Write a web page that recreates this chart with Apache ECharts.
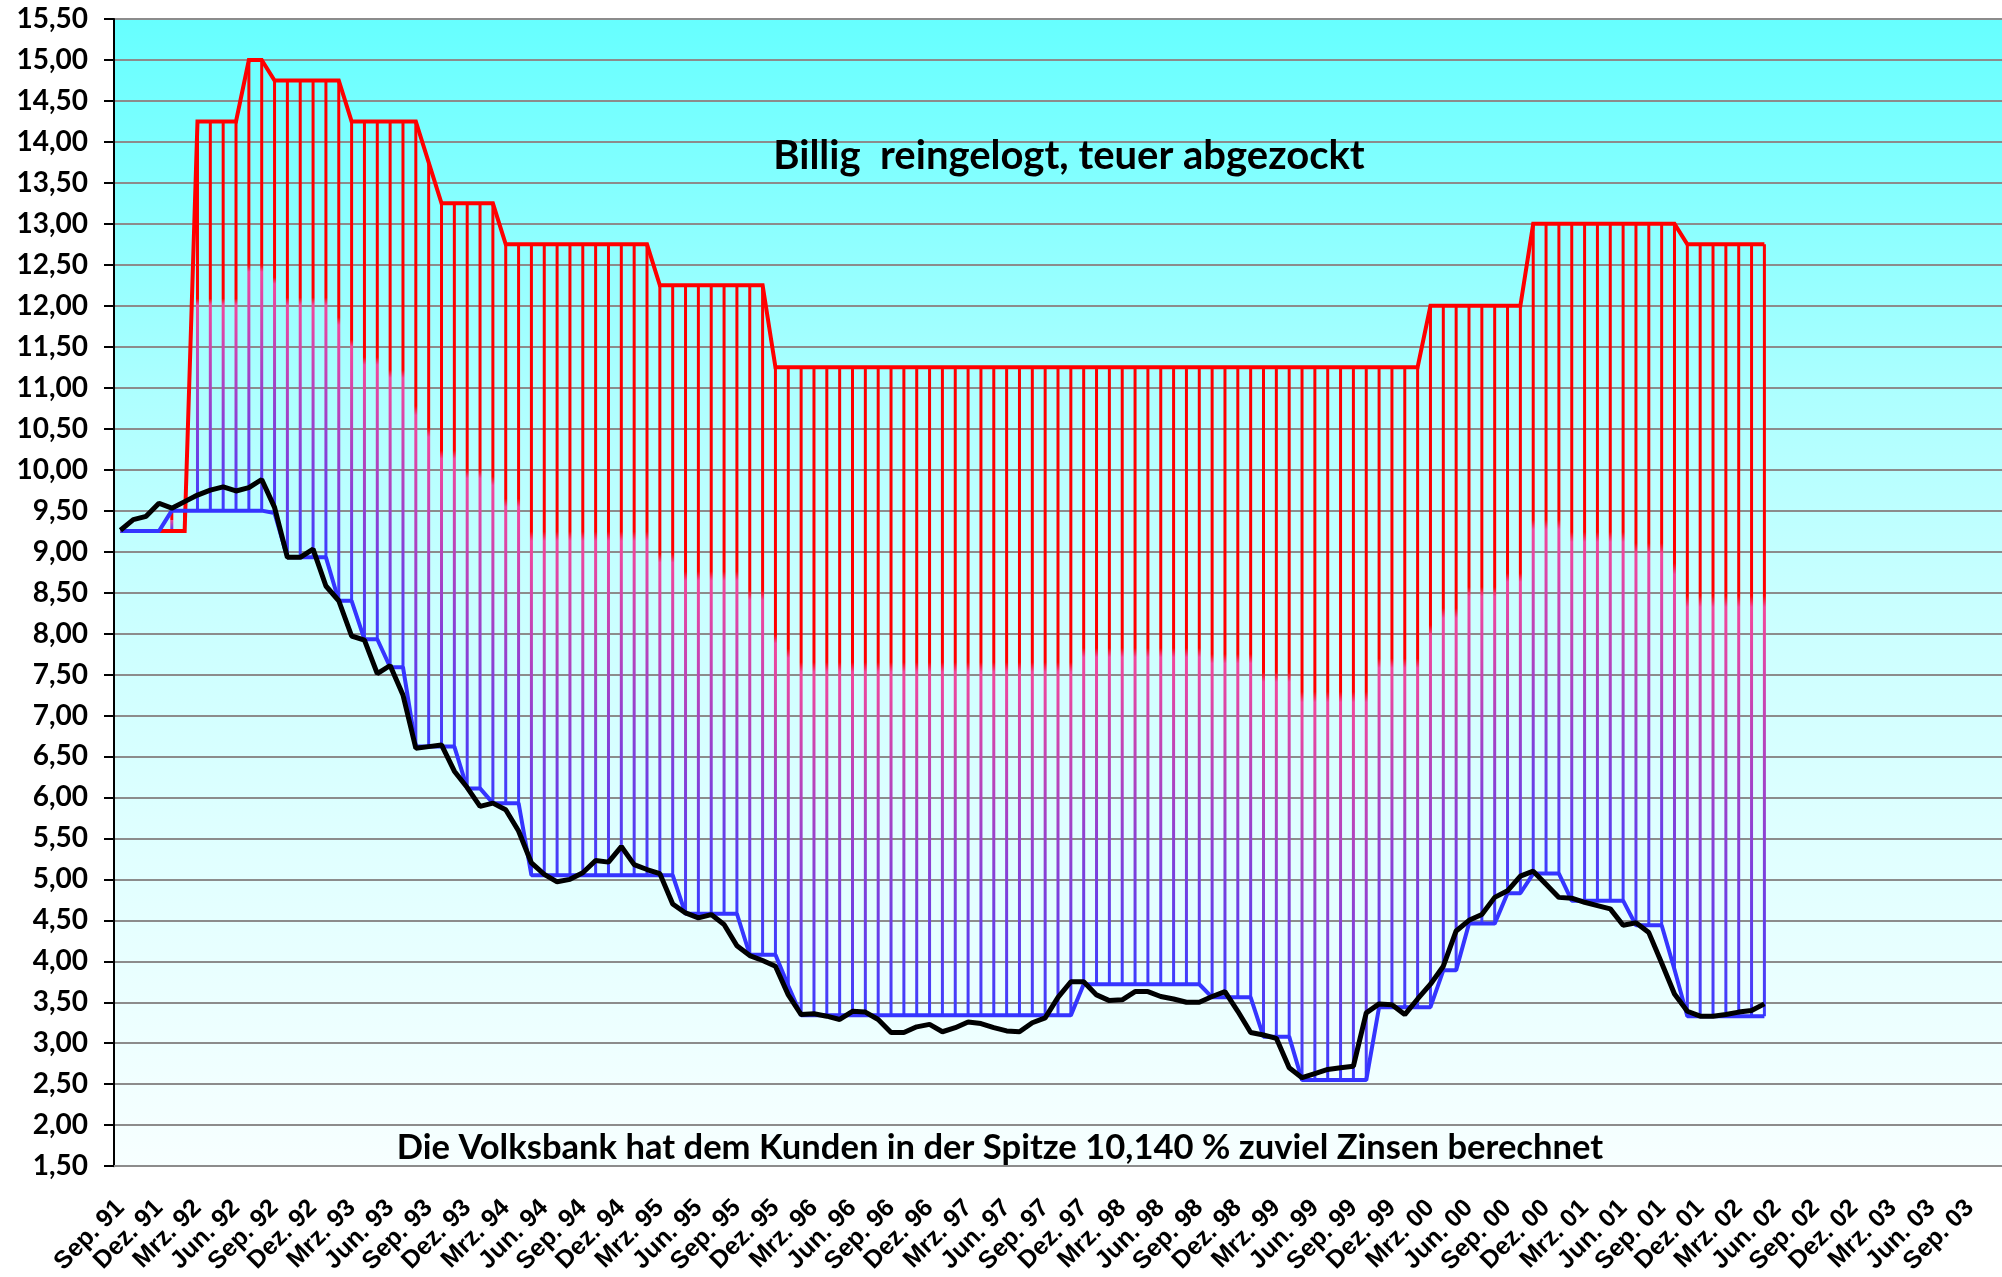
<!DOCTYPE html>
<html>
<head>
<meta charset="utf-8">
<script src="https://cdn.jsdelivr.net/npm/echarts@6/dist/echarts.min.js"></script>
<style>html,body{margin:0;padding:0;background:#fff;}#c{width:2002px;height:1277px;}</style>
</head>
<body>
<div id="c"></div>
<script>
// Monthly categories Sep. 91 - Nov. 03
const categories = [
'Sep. 91','Okt. 91','Nov. 91','Dez. 91',
'Jan. 92','Feb. 92','Mrz. 92','Apr. 92','Mai. 92','Jun. 92','Jul. 92','Aug. 92','Sep. 92','Okt. 92','Nov. 92','Dez. 92',
'Jan. 93','Feb. 93','Mrz. 93','Apr. 93','Mai. 93','Jun. 93','Jul. 93','Aug. 93','Sep. 93','Okt. 93','Nov. 93','Dez. 93',
'Jan. 94','Feb. 94','Mrz. 94','Apr. 94','Mai. 94','Jun. 94','Jul. 94','Aug. 94','Sep. 94','Okt. 94','Nov. 94','Dez. 94',
'Jan. 95','Feb. 95','Mrz. 95','Apr. 95','Mai. 95','Jun. 95','Jul. 95','Aug. 95','Sep. 95','Okt. 95','Nov. 95','Dez. 95',
'Jan. 96','Feb. 96','Mrz. 96','Apr. 96','Mai. 96','Jun. 96','Jul. 96','Aug. 96','Sep. 96','Okt. 96','Nov. 96','Dez. 96',
'Jan. 97','Feb. 97','Mrz. 97','Apr. 97','Mai. 97','Jun. 97','Jul. 97','Aug. 97','Sep. 97','Okt. 97','Nov. 97','Dez. 97',
'Jan. 98','Feb. 98','Mrz. 98','Apr. 98','Mai. 98','Jun. 98','Jul. 98','Aug. 98','Sep. 98','Okt. 98','Nov. 98','Dez. 98',
'Jan. 99','Feb. 99','Mrz. 99','Apr. 99','Mai. 99','Jun. 99','Jul. 99','Aug. 99','Sep. 99','Okt. 99','Nov. 99','Dez. 99',
'Jan. 00','Feb. 00','Mrz. 00','Apr. 00','Mai. 00','Jun. 00','Jul. 00','Aug. 00','Sep. 00','Okt. 00','Nov. 00','Dez. 00',
'Jan. 01','Feb. 01','Mrz. 01','Apr. 01','Mai. 01','Jun. 01','Jul. 01','Aug. 01','Sep. 01','Okt. 01','Nov. 01','Dez. 01',
'Jan. 02','Feb. 02','Mrz. 02','Apr. 02','Mai. 02','Jun. 02','Jul. 02','Aug. 02','Sep. 02','Okt. 02','Nov. 02','Dez. 02',
'Jan. 03','Feb. 03','Mrz. 03','Apr. 03','Mai. 03','Jun. 03','Jul. 03','Aug. 03','Sep. 03','Okt. 03','Nov. 03'
];

// Zinssatz Volksbank (rot)
const redValues = [
9.25,9.25,9.25,9.25,9.25,9.25,
14.25,14.25,14.25,14.25,
15.00,15.00,
14.75,14.75,14.75,14.75,14.75,14.75,
14.25,14.25,14.25,14.25,14.25,14.25,
13.75,
13.25,13.25,13.25,13.25,13.25,
12.75,12.75,12.75,12.75,12.75,12.75,12.75,12.75,12.75,12.75,12.75,12.75,
12.25,12.25,12.25,12.25,12.25,12.25,12.25,12.25,12.25,
11.25,11.25,11.25,11.25,11.25,11.25,11.25,11.25,11.25,11.25,
11.25,11.25,11.25,11.25,11.25,11.25,11.25,11.25,11.25,11.25,
11.25,11.25,11.25,11.25,11.25,11.25,11.25,11.25,11.25,11.25,
11.25,11.25,11.25,11.25,11.25,11.25,11.25,11.25,11.25,11.25,
11.25,11.25,11.25,11.25,11.25,11.25,11.25,11.25,11.25,11.25,
11.25,
12.00,12.00,12.00,12.00,12.00,12.00,12.00,12.00,
13.00,13.00,13.00,13.00,13.00,13.00,13.00,13.00,13.00,13.00,13.00,13.00,
12.75,12.75,12.75,12.75,12.75,12.75,12.75
];

// Vergleichszins (blau)
const blueValues = [
9.25,9.25,9.25,9.25,
9.50,9.50,9.50,9.50,9.50,9.50,9.50,9.50,
9.47,
8.93,8.93,8.93,8.93,
8.40,8.40,
7.93,7.93,
7.59,7.59,
6.62,6.62,6.62,6.62,
6.11,6.11,
5.93,5.93,5.93,
5.05,5.05,5.05,5.05,5.05,5.05,5.05,5.05,5.05,5.05,5.05,5.05,
4.58,4.58,4.58,4.58,4.58,
4.08,4.08,4.08,
3.70,
3.34,3.34,3.34,3.34,3.34,3.34,3.34,3.34,3.34,3.34,3.34,
3.34,3.34,3.34,3.34,3.34,3.34,3.34,3.34,3.34,3.34,3.34,
3.72,3.72,3.72,3.72,3.72,3.72,3.72,3.72,3.72,3.72,
3.56,3.56,3.56,3.56,
3.08,3.08,3.08,
2.55,2.55,2.55,2.55,2.55,2.55,
3.44,3.44,3.44,3.44,3.44,
3.89,3.89,
4.46,4.46,4.46,
4.83,4.83,
5.07,5.07,5.07,
4.74,4.74,4.74,4.74,4.74,
4.44,4.44,4.44,
3.90,
3.33,3.33,3.33,3.33,3.33,3.33,3.33
];

// Marktzins (schwarz)
const blackValues = [
9.26,9.39,9.43,9.59,9.53,9.61,9.69,9.75,9.79,9.74,
9.78,9.88,9.54,8.93,8.93,9.03,8.58,8.40,7.97,7.92,
7.51,7.61,7.25,6.60,6.62,6.64,6.32,6.12,5.89,5.93,
5.85,5.59,5.20,5.06,4.97,5.00,5.08,5.23,5.21,5.40,
5.18,5.12,5.07,4.70,4.59,4.53,4.57,4.45,4.19,4.07,
4.01,3.94,3.59,3.35,3.36,3.33,3.29,3.39,3.38,3.29,
3.13,3.13,3.20,3.23,3.14,3.19,3.26,3.24,3.19,3.15,
3.14,3.25,3.31,3.56,3.75,3.75,3.59,3.52,3.53,3.63,
3.63,3.57,3.54,3.50,3.50,3.57,3.63,3.39,3.13,3.10,
3.06,2.70,2.58,2.63,2.68,2.70,2.72,3.37,3.48,3.47,
3.35,3.54,3.72,3.94,4.37,4.50,4.57,4.78,4.86,5.04,
5.10,4.94,4.78,4.77,4.72,4.68,4.64,4.44,4.47,4.35,
3.98,3.60,3.39,3.33,3.33,3.35,3.38,3.40,3.48
];

const yAxisMin = 1.5, yAxisMax = 15.5, yAxisStep = 0.5;
const titleText = 'Billig  reingelogt, teuer abgezockt';
const footText = 'Die Volksbank hat dem Kunden in der Spitze 10,140 % zuviel Zinsen berechnet';

const spanData = redValues.map((r, i) => [i, r, blueValues[i]]);

const chart = echarts.init(document.getElementById('c'), null, {renderer: 'canvas'});

const option = {
  animation: false,
  backgroundColor: '#ffffff',
  grid: {
    left: 114, right: 0, top: 19, bottom: 109,
    show: true,
    borderWidth: 0,
    backgroundColor: {
      type: 'linear', x: 0, y: 0, x2: 0, y2: 1,
      colorStops: [
        {offset: 0, color: '#66ffff'},
        {offset: 0.13, color: '#80ffff'},
        {offset: 0.33, color: '#aeffff'},
        {offset: 0.5, color: '#c8ffff'},
        {offset: 0.7, color: '#deffff'},
        {offset: 1, color: '#f7ffff'}
      ]
    }
  },
  xAxis: {
    type: 'category',
    data: categories,
    boundaryGap: true,
    axisLine: {show: true, lineStyle: {color: '#8c8c8c', width: 2}},
    axisTick: {show: false},
    splitLine: {show: false},
    axisLabel: {
      interval: 2,
      rotate: 45,
      margin: 38,
      color: '#000',
      fontFamily: 'Liberation Sans',
      fontWeight: 'bold',
      fontSize: 25
    }
  },
  yAxis: {
    type: 'value',
    min: yAxisMin, max: yAxisMax, interval: yAxisStep,
    axisLine: {show: true, lineStyle: {color: '#000', width: 2}},
    axisTick: {show: true, length: 10, lineStyle: {color: '#000', width: 2}},
    splitLine: {show: true, lineStyle: {color: '#8c8c8c', width: 2}},
    axisLabel: {
      margin: 26,
      color: '#000',
      fontFamily: 'Lato',
      fontWeight: 'bold',
      fontSize: 28,
      formatter: v => v.toFixed(2).replace('.', ',')
    }
  },
  graphic: [
    {type: 'text', x: 1069, y: 156, z: 100,
      style: {text: titleText, font: 'bold 40px Lato', fill: '#000', align: 'center', verticalAlign: 'middle'}},
    {type: 'text', x: 1000, y: 1148, z: 100,
      style: {text: footText, font: 'bold 34.6px Lato', fill: '#000', align: 'center', verticalAlign: 'middle'}}
  ],
  series: [
    {
      type: 'custom',
      z: 1,
      data: spanData,
      encode: {x: 0, y: [1, 2]},
      renderItem: function (params, api) {
        const i = api.value(0);
        const p1 = api.coord([i, api.value(1)]);
        const p2 = api.coord([i, api.value(2)]);
        const top = Math.min(p1[1], p2[1]);
        const h = Math.abs(p2[1] - p1[1]);
        if (h < 0.5) return null;
        return {
          type: 'rect',
          shape: {x: p1[0] - 1.5, y: top, width: 3, height: h},
          style: {
            fill: new echarts.graphic.LinearGradient(0, 0, 0, 1, [
              {offset: 0, color: '#ff0000'},
              {offset: 0.455, color: '#ff0000'},
              {offset: 0.47, color: '#f2479a'},
              {offset: 1, color: '#3c3cff'}
            ])
          }
        };
      }
    },
    {
      type: 'line', z: 3, data: redValues, symbol: 'none',
      lineStyle: {color: '#ff0000', width: 4, join: 'miter'}
    },
    {
      type: 'line', z: 4, data: blueValues, symbol: 'none',
      lineStyle: {color: '#3535ff', width: 4}
    },
    {
      type: 'line', z: 5, data: blackValues, symbol: 'none',
      lineStyle: {color: '#000000', width: 5}
    }
  ]
};
chart.setOption(option);
</script>
</body>
</html>
